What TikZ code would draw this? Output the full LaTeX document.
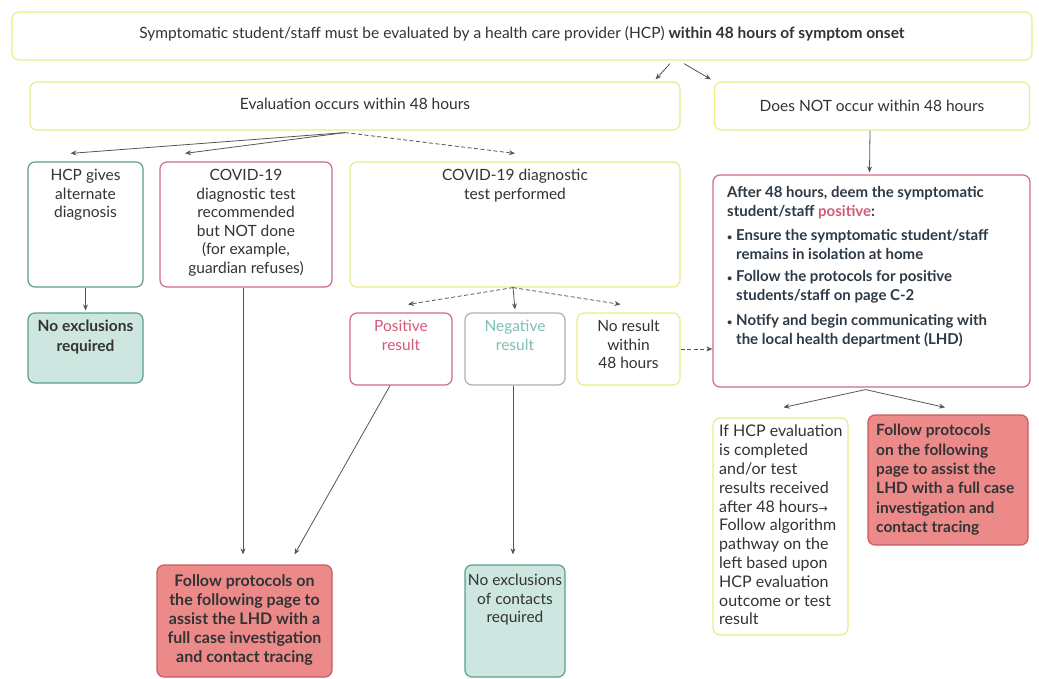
\documentclass[tikz,border=0pt]{standalone}
\usepackage{fontspec}
\setmainfont{Lato}
\newfontfamily\symfont{DejaVu Sans}
\usetikzlibrary{arrows.meta}
\definecolor{yel}{HTML}{EEEA86}
\definecolor{tealb}{HTML}{5A9E90}
\definecolor{pinkb}{HTML}{CF6B82}
\definecolor{grayb}{HTML}{A8B2B2}
\definecolor{redfill}{HTML}{EC8A8A}
\definecolor{redb}{HTML}{C95A5F}
\definecolor{tealfill}{HTML}{CDE6DF}
\definecolor{txtc}{HTML}{333333}
\definecolor{boldc}{HTML}{2D3A45}
\definecolor{poscol}{HTML}{D45A78}
\definecolor{negcol}{HTML}{7FBFB5}
\definecolor{arrc}{HTML}{555555}
\begin{document}
\begin{tikzpicture}[x=1pt,y=-1pt,
  box/.style={draw, rounded corners=7pt, line width=1.2pt, inner sep=0pt, fill=white},
  ybox/.style={box, draw=yel},
  tbox/.style={box, draw=tealb},
  pbox/.style={box, draw=pinkb},
  gbox/.style={box, draw=grayb},
  rbox/.style={box, draw=redb, fill=redfill},
  tfbox/.style={box, draw=tealb, fill=tealfill},
  txt/.style={inner sep=0pt, align=center, text=txtc, font=\fontsize{15.5}{18.6}\selectfont},
  btxt/.style={txt, font=\bfseries\fontsize{15.5}{19.4}\selectfont, text=boldc},
  arr/.style={draw=arrc, line width=0.8pt, -{Stealth[length=6pt,width=5pt]}},
  darr/.style={arr, dashed, dash pattern=on 4pt off 2.5pt}
]
\useasboundingbox (0,0) rectangle (1039,679);

% boxes
\node[ybox, minimum width=1020pt, minimum height=48pt] (top) at (522,36) {};
\node[ybox, minimum width=650pt, minimum height=48pt] (eval) at (355,106) {};
\node[ybox, minimum width=315pt, minimum height=48pt] (dnot) at (872,106) {};
\node[tbox, minimum width=115pt, minimum height=125pt] (hcp) at (85.5,224.5) {};
\node[pbox, minimum width=172pt, minimum height=125pt] (notdone) at (246,224.5) {};
\node[ybox, minimum width=330pt, minimum height=125pt] (perf) at (515,224.5) {};
\node[tfbox, minimum width=115pt, minimum height=70pt] (noexc) at (85.5,348) {};
\node[pbox, minimum width=102pt, minimum height=72pt] (pos) at (401,349) {};
\node[gbox, minimum width=100pt, minimum height=72pt] (neg) at (515,349) {};
\node[ybox, minimum width=103pt, minimum height=72pt] (nores) at (628.5,349) {};
\node[pbox, minimum width=317pt, minimum height=212pt] (after) at (871.5,281) {};
\node[ybox, minimum width=135pt, minimum height=217pt] (ifhcp) at (780.5,526.5) {};
\node[rbox, minimum width=160pt, minimum height=130pt] (redr) at (948,480) {};
\node[rbox, minimum width=175pt, minimum height=112pt] (redl) at (244.5,621) {};
\node[tfbox, minimum width=100pt, minimum height=112pt] (noexc2) at (515,621) {};

% texts
\node[txt] (ttop) at (522,34) {Symptomatic student/staff must be evaluated by a health care provider (HCP) \textbf{within 48 hours of symptom onset}};
\node[txt] (teval) at (355,104) {Evaluation occurs within 48 hours};
\node[txt] (tdnot) at (872,106) {Does NOT occur within 48 hours};
\node[txt, anchor=north] (thcp) at (85.5,169) {HCP gives\\alternate\\diagnosis};
\node[txt, anchor=north] (tnotdone) at (246,169) {COVID-19\\diagnostic test\\recommended\\but NOT done\\(for example,\\guardian refuses)};
\node[txt, anchor=north] (tperf) at (515,169) {COVID-19 diagnostic\\test performed};
\node[btxt, anchor=north, text=txtc] (tnoexc) at (85.5,320) {No exclusions\\required};
\node[txt, anchor=north, text=poscol] (tpos) at (401,320) {Positive\\result};
\node[txt, anchor=north, text=negcol] (tneg) at (515,320) {Negative\\result};
\node[txt, anchor=north] (tnores) at (628.5,320) {No result\\within\\48 hours};
\node[btxt, anchor=north west, align=left, font=\bfseries\fontsize{15}{19.5}\selectfont] (tafter) at (727,186) {After 48 hours, deem the symptomatic\\
student/staff \textcolor{poscol}{positive}:\\[4pt]
\makebox[9pt][l]{\scalebox{0.6}{\textbullet}}Ensure the symptomatic student/staff\\
\hspace*{9pt}remains in isolation at home\\[2pt]
\makebox[9pt][l]{\scalebox{0.6}{\textbullet}}Follow the protocols for positive\\
\hspace*{9pt}students/staff on page C-2\\[5pt]
\makebox[9pt][l]{\scalebox{0.6}{\textbullet}}Notify and begin communicating with\\
\hspace*{9pt}the local health department (LHD)};
\node[txt, anchor=north west, align=left, font=\fontsize{16}{18.8}\selectfont] (tifhcp) at (719,425) {If HCP evaluation\\is completed\\and/or test\\results received\\after 48 hours{\symfont\fontsize{11}{12}\selectfont→}\\Follow algorithm\\pathway on the\\left based upon\\HCP evaluation\\outcome or test\\result};
\node[btxt, anchor=north west, align=left, text=black!80] (tredr) at (876,424) {Follow protocols\\on the following\\page to assist the\\LHD with a full case\\investigation and\\contact tracing};
\node[btxt, anchor=north, text=black!80, font=\bfseries\fontsize{16}{19}\selectfont] (tredl) at (244.5,574) {Follow protocols on\\the following page to\\assist the LHD with a\\full case investigation\\and contact tracing};
\node[txt, anchor=north] (tnoexc2) at (515,574) {No exclusions\\of contacts\\required};

% connectors
\draw[arr] ([xshift=148pt,yshift=-3pt]top.south) -- ([xshift=-25pt,yshift=2pt]eval.north east);
\draw[arr] ([xshift=162pt,yshift=-3pt]top.south) -- ([xshift=-3pt,yshift=2pt]dnot.north west);
\draw[arr] ([xshift=-10pt,yshift=-2pt]eval.south) -- ([xshift=-15pt,yshift=8pt]hcp.north);
\draw[arr] ([xshift=-10pt,yshift=-2pt]eval.south) -- ([xshift=-61pt,yshift=8pt]notdone.north);
\draw[darr] ([xshift=-10pt,yshift=-2pt]eval.south) -- ([yshift=8pt]perf.north);
\draw[arr] (hcp.south) -- ([yshift=2pt]noexc.north);
\draw[darr] ([xshift=-2pt]perf.south) -- ([xshift=7pt,yshift=8pt]pos.north);
\draw[arr] ([xshift=-2pt]perf.south) -- ([yshift=3pt]neg.north);
\draw[darr] ([xshift=-2pt]perf.south) -- ([xshift=-8pt,yshift=8pt]nores.north);
\draw[darr] (nores.east) -- (after.west |- nores.east);
\draw[arr] ([xshift=-2pt]dnot.south) -- ([xshift=-2pt,yshift=2pt]after.north);
\draw[arr] ([xshift=-6pt,yshift=-2pt]after.south) -- ([xshift=3pt,yshift=10pt]ifhcp.north);
\draw[arr] ([xshift=-6pt,yshift=-2pt]after.south) -- ([xshift=-3pt,yshift=7pt]redr.north);
\draw[arr] ([xshift=-3pt]notdone.south) -- ([xshift=-1.5pt,yshift=10pt]redl.north);
\draw[arr] ([xshift=-11pt]pos.south) -- ([xshift=50pt,yshift=10pt]redl.north);
\draw[arr] ([xshift=-2pt]neg.south) -- ([xshift=-2pt,yshift=10pt]noexc2.north);
\end{tikzpicture}
\end{document}
